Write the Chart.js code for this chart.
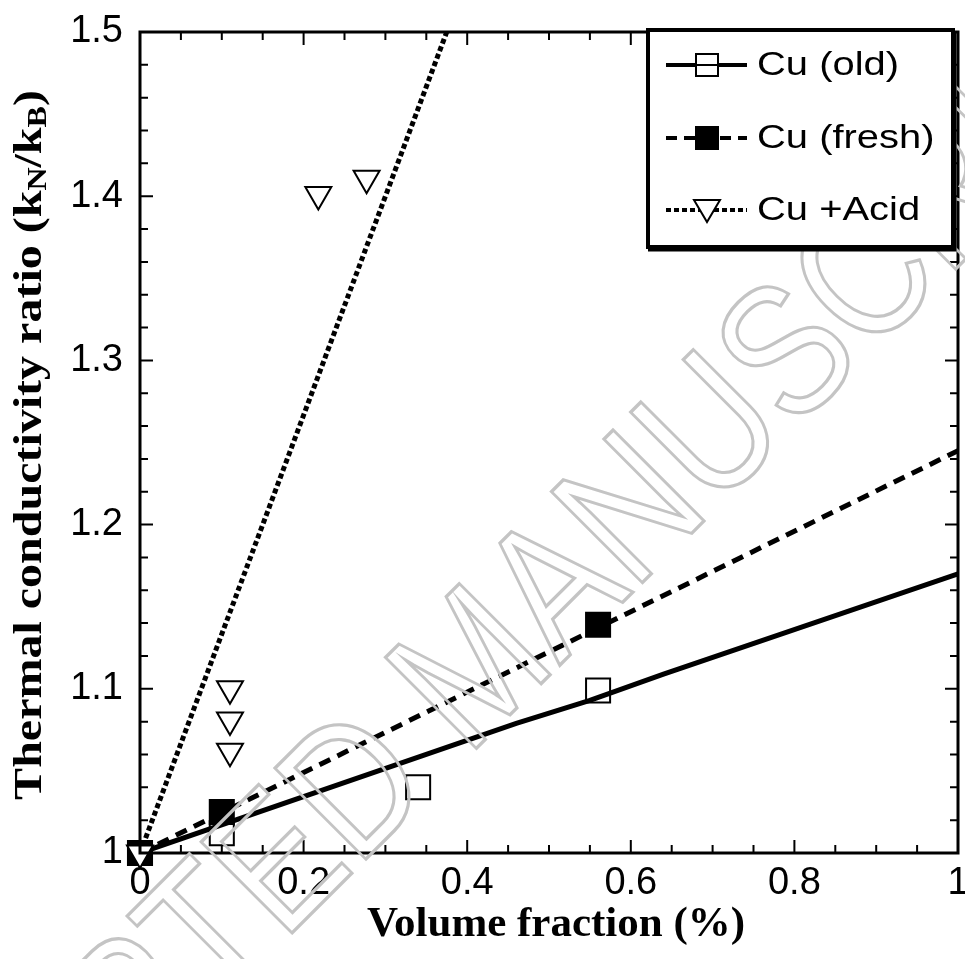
<!DOCTYPE html>
<html>
<head>
<meta charset="utf-8">
<script src="https://cdn.jsdelivr.net/npm/chart.js@4.4.1/dist/chart.umd.min.js"></script>
<style>
html,body{margin:0;padding:0;background:#fff;}
#wrap{width:965px;height:959px;position:relative;}
</style>
</head>
<body>
<div id="wrap"><canvas id="c" width="965" height="959"></canvas></div>
<script>
// ---- data ----
const seriesNames = ['Cu (old)', 'Cu (fresh)', 'Cu +Acid'];
const oldX = [0, 0.10, 0.34, 0.56];
const oldY = [1.0, 1.012, 1.040, 1.099];
const freshX = [0, 0.10, 0.56];
const freshY = [1.0, 1.025, 1.139];
const acidX = [0, 0.11, 0.11, 0.11, 0.218, 0.277];
const acidY = [1.0, 1.100, 1.081, 1.062, 1.401, 1.411];
// fitted curves
const oldFitX = [0, 0.46, 0.55, 0.64, 1.0];
const oldFitY = [1.0, 1.079, 1.093, 1.109, 1.170];
const freshFitX = [0, 1.0];
const freshFitY = [1.0, 1.245];
const acidFitX = [0, 0.375];
const acidFitY = [1.0, 1.5];
const xTicks = [0, 0.2, 0.4, 0.6, 0.8, 1];
const yTicks = [1, 1.1, 1.2, 1.3, 1.4, 1.5];

const pts = (xs, ys) => xs.map((x, i) => ({x: x, y: ys[i]}));
const fmt = v => String(Number(v.toFixed(2)));

const frame = {
  id: 'frame',
  afterDatasetsDraw(chart) {
    const ctx = chart.ctx, a = chart.chartArea;
    const xs = chart.scales.x, ys = chart.scales.y;
    ctx.save();
    ctx.strokeStyle = '#000';
    ctx.lineWidth = 2;
    for (let i = 0; i <= 20; i++) {
      const v = i * 0.05;
      const px = xs.getPixelForValue(v);
      const len = (i % 4 === 0) ? 13 : 8;
      ctx.beginPath();
      ctx.moveTo(px, a.bottom); ctx.lineTo(px, a.bottom - len);
      ctx.moveTo(px, a.top); ctx.lineTo(px, a.top + len);
      ctx.stroke();
    }
    for (let i = 0; i <= 25; i++) {
      const v = 1 + i * 0.02;
      const py = ys.getPixelForValue(v);
      const len = (i % 5 === 0) ? 13 : 8;
      ctx.beginPath();
      ctx.moveTo(a.left, py); ctx.lineTo(a.left + len, py);
      ctx.moveTo(a.right, py); ctx.lineTo(a.right - len, py);
      ctx.stroke();
    }
    ctx.lineWidth = 3;
    ctx.strokeRect(a.left, a.top, a.right - a.left, a.bottom - a.top);
    ctx.restore();
  },
  afterDraw(chart) {
    const ctx = chart.ctx;
    ctx.save();
    // watermark
    ctx.translate(480, 672);
    ctx.rotate(-45 * Math.PI / 180);
    ctx.scale(0.92, 1.1);
    ctx.font = '170px "Liberation Sans", Arial, sans-serif';
    ctx.textAlign = 'center';
    ctx.textBaseline = 'middle';
    ctx.strokeStyle = '#c4c4c4';
    ctx.lineWidth = 3;
    ctx.strokeText('ACCEPTED MANUSCRIPT', 0, 0);
    ctx.restore();

    // y axis title with subscripts
    ctx.save();
    ctx.translate(30, 445);
    ctx.rotate(-Math.PI / 2);
    ctx.fillStyle = '#000';
    ctx.textBaseline = 'middle';
    const big = 'bold 48px "Liberation Serif", "Times New Roman", serif';
    const small = 'bold 32px "Liberation Serif", "Times New Roman", serif';
    const parts = [
      ['Thermal conductivity ratio (k', big, 0],
      ['N', small, 10],
      ['/k', big, 0],
      ['B', small, 10],
      [')', big, 0]
    ];
    let total = 0;
    parts.forEach(p => { ctx.font = p[1]; total += ctx.measureText(p[0]).width; });
    ctx.scale(1, 0.85);
    let x = -total / 2;
    parts.forEach(p => {
      ctx.font = p[1];
      ctx.fillText(p[0], x, p[2]);
      x += ctx.measureText(p[0]).width;
    });
    ctx.restore();

    // x axis title
    ctx.save();
    ctx.fillStyle = '#000';
    ctx.font = 'bold 43px "Liberation Serif", "Times New Roman", serif';
    ctx.textAlign = 'center';
    ctx.textBaseline = 'middle';
    ctx.fillText('Volume fraction (%)', 556, 925);
    ctx.restore();

    // legend
    ctx.save();
    ctx.strokeStyle = '#000';
    ctx.fillStyle = '#fff';
    ctx.fillRect(648, 30, 305, 217);
    ctx.lineWidth = 4;
    ctx.strokeRect(648, 30, 305, 217);
    ctx.lineWidth = 3;
    ctx.beginPath();
    ctx.moveTo(955, 32); ctx.lineTo(955, 250); ctx.lineTo(648, 250);
    ctx.stroke();
    const rows = [65, 138, 210];
    const dashes = [[], [11, 7], [5, 3]];
    rows.forEach((ry, i) => {
      ctx.setLineDash(dashes[i]);
      ctx.lineWidth = 4;
      ctx.beginPath();
      ctx.moveTo(666, ry); ctx.lineTo(747, ry);
      ctx.stroke();
      ctx.setLineDash([]);
      ctx.lineWidth = 2;
      if (i === 0 || i === 1) {
        ctx.fillStyle = i === 0 ? '#fff' : '#000';
        ctx.fillRect(696, ry - 11, 22, 22);
        ctx.strokeRect(696, ry - 11, 22, 22);
        if (i === 0) {
          ctx.beginPath(); ctx.moveTo(696, ry); ctx.lineTo(718, ry); ctx.stroke();
        }
      } else {
        ctx.fillStyle = '#fff';
        ctx.beginPath();
        ctx.moveTo(694, ry - 10); ctx.lineTo(720, ry - 10); ctx.lineTo(707, ry + 12);
        ctx.closePath();
        ctx.fill(); ctx.stroke();
      }
      ctx.save();
      ctx.fillStyle = '#000';
      ctx.font = '33px "Liberation Sans", Arial, sans-serif';
      ctx.textBaseline = 'middle';
      ctx.translate(757, ry);
      ctx.scale(1.21, 1);
      ctx.fillText(seriesNames[i], 0, 1);
      ctx.restore();
    });
    ctx.restore();
  }
};

new Chart(document.getElementById('c'), {
  type: 'scatter',
  data: {
    datasets: [
      { label: seriesNames[2], data: pts(acidX, acidY), order: 0, clip: false,
        pointStyle: 'triangle', rotation: 180, pointRadius: 15,
        backgroundColor: '#fff', borderColor: '#000', borderWidth: 2, showLine: false },
      { label: seriesNames[1], data: pts(freshX, freshY), order: 1, clip: false,
        pointStyle: 'rect', pointRadius: 17,
        backgroundColor: '#000', borderColor: '#000', borderWidth: 2, showLine: false },
      { label: seriesNames[0] + ' fit', data: pts(oldFitX, oldFitY), order: 2, showLine: true,
        pointRadius: 0, borderColor: '#000', borderWidth: 5, tension: 0 },
      { label: seriesNames[1] + ' fit', data: pts(freshFitX, freshFitY), order: 2, showLine: true,
        pointRadius: 0, borderColor: '#000', borderWidth: 5, borderDash: [12, 8] },
      { label: seriesNames[2] + ' fit', data: pts(acidFitX, acidFitY), order: 2, showLine: true,
        pointRadius: 0, borderColor: '#000', borderWidth: 5, borderDash: [5, 3] },
      { label: seriesNames[0], data: pts(oldX, oldY), order: 3, clip: false,
        pointStyle: 'rect', pointRadius: 17,
        backgroundColor: '#fff', borderColor: '#000', borderWidth: 2, showLine: false }
    ]
  },
  options: {
    responsive: false,
    animation: false,
    devicePixelRatio: 1,
    layout: { autoPadding: false, padding: { top: 32, right: 7, left: 0, bottom: 0 } },
    plugins: { legend: { display: false }, tooltip: { enabled: false } },
    scales: {
      x: {
        type: 'linear', min: 0, max: 1,
        afterFit: s => { s.height = 106; s.paddingLeft = 0; s.paddingRight = 0; },
        afterBuildTicks: s => { s.ticks = xTicks.map(v => ({value: v})); },
        grid: { display: false, drawTicks: false },
        border: { display: false },
        ticks: { color: '#000', padding: 8, maxRotation: 0, autoSkip: false,
          font: { family: '"Liberation Sans", Arial, sans-serif', size: 38 },
          callback: v => fmt(v) }
      },
      y: {
        type: 'linear', min: 1, max: 1.5,
        afterFit: s => { s.width = 140; s.paddingTop = 0; s.paddingBottom = 0; },
        afterBuildTicks: s => { s.ticks = yTicks.map(v => ({value: v})); },
        grid: { display: false, drawTicks: false },
        border: { display: false },
        ticks: { color: '#000', padding: 17, autoSkip: false,
          font: { family: '"Liberation Sans", Arial, sans-serif', size: 38 },
          callback: v => fmt(v) }
      }
    }
  },
  plugins: [frame]
});
</script>
</body>
</html>
